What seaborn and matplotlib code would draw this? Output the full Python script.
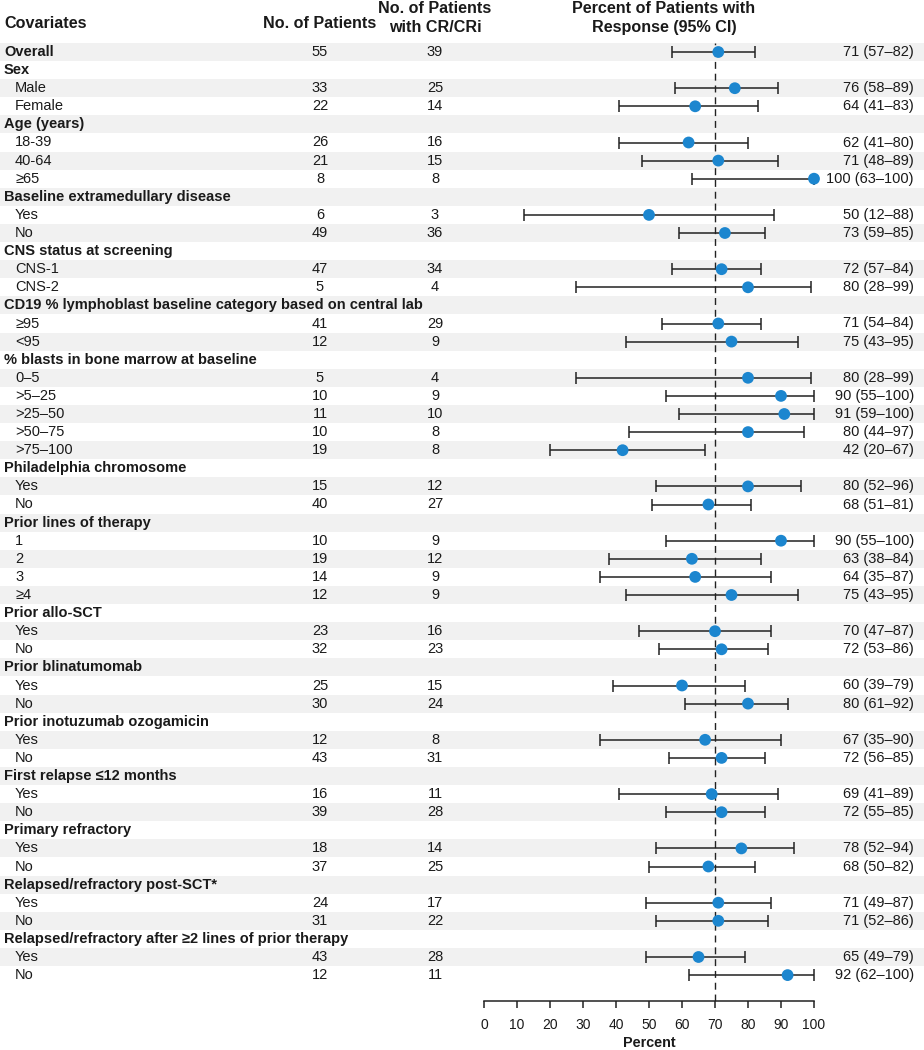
import pandas as pd
import matplotlib.pyplot as plt
import seaborn as sns

# ── Data ────────────────────────────────────────────────────────────────────
covariates = [
    "Overall", "Sex", "Male", "Female", "Age (years)", "18-39", "40-64", "≥65",
    "Baseline extramedullary disease", "Yes", "No",
    "CNS status at screening", "CNS-1", "CNS-2",
    "CD19 % lymphoblast baseline category based on central lab", "≥95", "<95",
    "% blasts in bone marrow at baseline", "0–5", ">5–25", ">25–50", ">50–75", ">75–100",
    "Philadelphia chromosome", "Yes", "No",
    "Prior lines of therapy", "1", "2", "3", "≥4",
    "Prior allo-SCT", "Yes", "No",
    "Prior blinatumomab", "Yes", "No",
    "Prior inotuzumab ozogamicin", "Yes", "No",
    "First relapse ≤12 months", "Yes", "No",
    "Primary refractory", "Yes", "No",
    "Relapsed/refractory post-SCT*", "Yes", "No",
    "Relapsed/refractory after ≥2 lines of prior therapy", "Yes", "No",
]
n_patients = [55, None, 33, 22, None, 26, 21, 8, None, 6, 49, None, 47, 5, None, 41, 12,
              None, 5, 10, 11, 10, 19, None, 15, 40, None, 10, 19, 14, 12, None, 23, 32,
              None, 25, 30, None, 12, 43, None, 16, 39, None, 18, 37, None, 24, 31, None, 43, 12]
n_cr = [39, None, 25, 14, None, 16, 15, 8, None, 3, 36, None, 34, 4, None, 29, 9,
        None, 4, 9, 10, 8, 8, None, 12, 27, None, 9, 12, 9, 9, None, 16, 23,
        None, 15, 24, None, 8, 31, None, 11, 28, None, 14, 25, None, 17, 22, None, 28, 11]
pct = [71, None, 76, 64, None, 62, 71, 100, None, 50, 73, None, 72, 80, None, 71, 75,
       None, 80, 90, 91, 80, 42, None, 80, 68, None, 90, 63, 64, 75, None, 70, 72,
       None, 60, 80, None, 67, 72, None, 69, 72, None, 78, 68, None, 71, 71, None, 65, 92]
ci_lo = [57, None, 58, 41, None, 41, 48, 63, None, 12, 59, None, 57, 28, None, 54, 43,
         None, 28, 55, 59, 44, 20, None, 52, 51, None, 55, 38, 35, 43, None, 47, 53,
         None, 39, 61, None, 35, 56, None, 41, 55, None, 52, 50, None, 49, 52, None, 49, 62]
ci_hi = [82, None, 89, 83, None, 80, 89, 100, None, 88, 85, None, 84, 99, None, 84, 95,
         None, 99, 100, 100, 97, 67, None, 96, 81, None, 100, 84, 87, 95, None, 87, 86,
         None, 79, 92, None, 90, 85, None, 89, 85, None, 94, 82, None, 87, 86, None, 79, 100]
ref_line = 70
x_ticks = [0, 10, 20, 30, 40, 50, 60, 70, 80, 90, 100]

# ── Layout (pixels) ─────────────────────────────────────────────────────────
W, H = 924, 1050
TOP, STEP = 52, 18.1
AX_L, AX_R, AX_T, AX_B = 484, 814, 43, 1001
BLUE = "#1c86cf"
SHADE = "#f1f1f1"
INK = "#1a1a1a"
FS = 10.5      # body rows
FS_HDR = 11.6  # column headers

sns.set_theme(style="white")
plt.rcParams["font.family"] = ["Liberation Sans", "DejaVu Sans"]

df = pd.DataFrame({"label": covariates, "n": n_patients, "cr": n_cr,
                   "pct": pct, "lo": ci_lo, "hi": ci_hi})
df["y"] = TOP + STEP * df.index
df["bold"] = df["n"].isna() | (df.index == 0)

fig = plt.figure(figsize=(W / 100, H / 100), dpi=100)

# background table axes in pixel units
bg = fig.add_axes([0, 0, 1, 1])
bg.set_xlim(0, W)
bg.set_ylim(H, 0)
bg.axis("off")
shaded = df[df.index % 2 == 0]
bg.barh(shaded["y"], width=W, height=STEP, left=0, color=SHADE, linewidth=0)

for _, r in df.iterrows():
    if r["bold"]:
        bg.text(4, r["y"], r["label"], fontsize=FS, fontweight="bold", va="center", color=INK)
    else:
        bg.text(15, r["y"], r["label"], fontsize=FS, va="center", color=INK)
    if pd.notna(r["n"]):
        bg.text(320, r["y"], f"{int(r['n'])}", fontsize=FS, va="center", ha="center", color=INK)
        bg.text(435, r["y"], f"{int(r['cr'])}", fontsize=FS, va="center", ha="center", color=INK)
        bg.text(914, r["y"], f"{int(r['pct'])} ({int(r['lo'])}–{int(r['hi'])})",
                fontsize=FS, va="center", ha="right", color=INK)

hdr = dict(fontsize=FS_HDR, fontweight="bold", va="center", color=INK)
bg.text(4, 23, "Covariates", ha="left", **hdr)
bg.text(320, 23, "No. of Patients", ha="center", **hdr)
bg.text(435, 8.5, "No. of Patients", ha="center", **hdr)
bg.text(435, 27.5, "with CR/CRi", ha="center", **hdr)
bg.text(664, 8.5, "Percent of Patients with", ha="center", **hdr)
bg.text(664, 27.5, "Response (95% CI)", ha="center", **hdr)

# forest axes
ax = fig.add_axes([AX_L / W, 1 - AX_B / H, (AX_R - AX_L) / W, (AX_B - AX_T) / H])
ax.patch.set_alpha(0)
pts = df.dropna(subset=["pct"])
ax.errorbar(pts["pct"], pts["y"], xerr=[pts["pct"] - pts["lo"], pts["hi"] - pts["pct"]],
            fmt="none", ecolor="#222222", elinewidth=1.1, capsize=4.3, capthick=1.1,
            clip_on=False, zorder=2)
sns.scatterplot(data=pts, x="pct", y="y", ax=ax, color=BLUE, s=72, edgecolor="none",
                zorder=3, clip_on=False, legend=False)
ax.axvline(ref_line, color="#222222", linestyle=(0, (5, 3.5)), linewidth=1.0, zorder=1)
ax.set_xlim(0, 100)
ax.set_ylim(AX_B, AX_T)
for s in ["top", "right", "left"]:
    ax.spines[s].set_visible(False)
ax.spines["bottom"].set_color("#222222")
ax.spines["bottom"].set_linewidth(1.1)
ax.set_xticks(x_ticks)
ax.set_yticks([])
ax.tick_params(axis="x", bottom=True, direction="out", length=5, width=1.1,
               color="#222222", labelsize=10, labelcolor=INK, pad=7)
ax.set_xlabel("Percent", fontsize=10.4, fontweight="bold", labelpad=3, color=INK)
ax.set_ylabel("")

fig.savefig("out.png", dpi=100)
